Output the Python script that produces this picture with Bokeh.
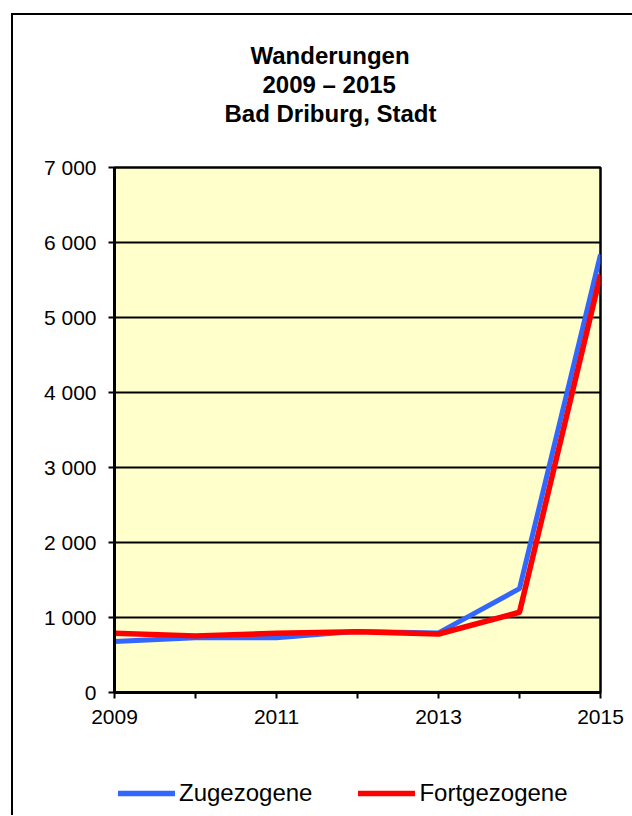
from bokeh.plotting import figure
from bokeh.models import FixedTicker, Legend, LegendItem, Title
from bokeh.layouts import column
from bokeh.embed import file_html
from bokeh.resources import INLINE

# ---- data ----
years = [2009, 2010, 2011, 2012, 2013, 2014, 2015]
zugezogene = [680, 730, 730, 815, 795, 1385, 5840]
fortgezogene = [790, 755, 790, 810, 780, 1070, 5570]

title_lines = ["Wanderungen", "2009 \u2013 2015", "Bad Driburg, Stadt"]
series_names = ["Zugezogene", "Fortgezogene"]
series_colors = ["#3366FF", "#FF0000"]

x_ticks = [2009, 2010, 2011, 2012, 2013, 2014, 2015]
x_tick_labels = ["2009", "", "2011", "", "2013", "", "2015"]
y_ticks = [0, 1000, 2000, 3000, 4000, 5000, 6000, 7000]
y_tick_labels = ["0", "1 000", "2 000", "3 000", "4 000", "5 000", "6 000", "7 000"]

FONT = "Liberation Sans"

p = figure(width=619, height=722, output_backend="svg", toolbar_location=None,
           x_range=(2009, 2015), y_range=(0, 7000),
           min_border_left=101, min_border_right=32,
           min_border_top=152, min_border_bottom=45)

p.background_fill_color = "#FFFFCC"
p.border_fill_color = "white"
p.outline_line_color = "black"
p.outline_line_width = 2.5

# grid
p.xgrid.visible = False
p.ygrid.ticker = FixedTicker(ticks=y_ticks)
p.ygrid.grid_line_color = "black"
p.ygrid.grid_line_width = 2

# axes
for ax in (p.xaxis[0], p.yaxis[0]):
    ax.axis_line_color = "black"
    ax.axis_line_width = 3
    ax.major_tick_line_color = "black"
    ax.major_tick_line_width = 2
    ax.major_tick_out = 6
    ax.major_tick_in = 0
    ax.minor_tick_line_color = None
    ax.major_label_text_font = FONT
    ax.major_label_text_font_size = "21px"
    ax.major_label_text_color = "black"

p.xaxis.ticker = FixedTicker(ticks=x_ticks)
p.xaxis.major_label_overrides = {t: l for t, l in zip(x_ticks, x_tick_labels)}
p.xaxis.major_label_standoff = 11
p.yaxis.ticker = FixedTicker(ticks=y_ticks)
p.yaxis.major_label_overrides = {t: l for t, l in zip(y_ticks, y_tick_labels)}
p.yaxis.major_label_standoff = 12

# lines
p.line(years, zugezogene, line_color=series_colors[0], line_width=5)
p.line(years, fortgezogene, line_color=series_colors[1], line_width=5.5)

# titles (added bottom line first; later ones stack further up)
title_offsets = [110, 148, 136]
for i, (txt, off) in enumerate(zip(reversed(title_lines), title_offsets)):
    t = Title(text=txt, align="left", offset=off, standoff=0,
              text_font=FONT, text_font_size="24px", text_font_style="bold",
              text_color="black")
    if i == 0:
        t.padding = (0, 0, 0, 41)
    p.add_layout(t, "above")

# legend strip below the chart (its frame is aligned with the chart frame)
pl = figure(width=619, height=78, output_backend="svg", toolbar_location=None,
            x_axis_location=None, y_axis_location=None,
            x_range=(0, 1), y_range=(0, 1),
            min_border_left=0, min_border_right=0, min_border_top=0, min_border_bottom=0)
pl.outline_line_color = None
pl.grid.visible = False
pl.background_fill_color = "white"
pl.border_fill_color = "white"
# legend proxies: same series, outside this strip's visible range
lr = [pl.line(years, vals, line_color=c, line_width=5.5, line_cap="round")
      for vals, c in zip([zugezogene, fortgezogene], series_colors)]

legend = Legend(items=[LegendItem(label=n, renderers=[r]) for n, r in zip(series_names, lr)],
                orientation="horizontal", location=(4, 8),
                glyph_width=57, glyph_height=20, label_standoff=4, spacing=46,
                padding=0, margin=0, border_line_color=None,
                background_fill_alpha=0,
                label_text_font=FONT, label_text_font_size="24px",
                label_text_color="black")
pl.add_layout(legend, "center")

layout = column(p, pl, spacing=0)
layout.styles = {"margin-left": "11px", "margin-top": "13px",
                 "border-left": "2px solid black", "border-top": "2px solid black"}

open("out.html", "w").write(file_html(layout, INLINE))
